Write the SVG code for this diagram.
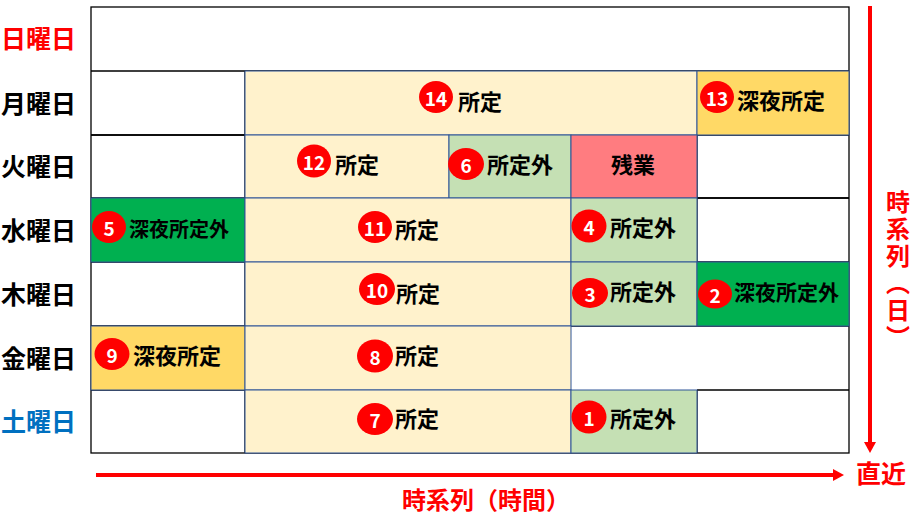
<svg xmlns="http://www.w3.org/2000/svg" width="916" height="515" viewBox="0 0 916 515">
<style>
.cell{stroke:#2F5597;stroke-width:1}
.ly{fill:#FFF2CC}.gd{fill:#FFD966}.lg{fill:#C5E0B4}.gr{fill:#00B050}.pk{fill:#FF7C80}
.grid{stroke:#000;stroke-width:1.3;fill:none}
.t{font-family:"Noto Sans CJK JP","Noto Sans CJK SC",sans-serif;font-weight:bold;font-size:22px;fill:#000;dominant-baseline:central}
.s{font-size:20px}
.num{font-family:"Noto Sans CJK JP","Noto Sans",sans-serif;font-weight:bold;font-size:19px;fill:#fff;text-anchor:middle;dominant-baseline:central}
.bad{fill:#FF0000}
.day{font-family:"Noto Sans CJK JP","Noto Sans CJK SC",sans-serif;font-weight:bold;font-size:25px;fill:#000;dominant-baseline:central}
.red{fill:#FF0000}.blue{fill:#0070C0}
.axis{stroke:#FF0000;stroke-width:4;fill:none}
.lbl{font-family:"Noto Sans CJK JP","Noto Sans CJK SC",sans-serif;font-weight:bold;font-size:24px;fill:#FF0000;dominant-baseline:central}
</style>
<defs>
<marker id="ah" markerUnits="userSpaceOnUse" markerWidth="11" markerHeight="12" refX="0" refY="6" orient="auto" viewBox="0 0 11 12">
<path d="M0,0 L11,6 L0,12 z" fill="#FF0000"/>
</marker>
</defs>
<rect width="916" height="515" fill="#fff"/>

<g id="row-labels">
<text class="day red" x="1" y="37">日曜日</text>
<text class="day" x="1" y="102">月曜日</text>
<text class="day" x="1" y="165">火曜日</text>
<text class="day" x="1" y="229">水曜日</text>
<text class="day" x="1" y="293">木曜日</text>
<text class="day" x="1" y="357">金曜日</text>
<text class="day blue" x="1" y="420">土曜日</text>
</g>

<g id="grid">
<rect class="grid" x="91" y="7" width="758" height="446"/>
<path class="grid" d="M91,71H849 M91,135H245 M697,135H849 M91,198H245 M697,198H849 M91,262H245 M697,262H849 M91,326H245 M571,326H849 M91,390H245 M697,390H849 M245,71V453 M697,390V453 M697,135V262"/>
<path class="grid" stroke-width="2.2" d="M91,135H245 M697,198H849"/>
</g>

<g id="n14"><rect class="cell ly" x="245" y="71" width="452" height="64"/>
<ellipse class="bad" cx="436" cy="97" rx="17" ry="16"/><text class="num" x="436" y="97">14</text>
<text class="t" x="458" y="100">所定</text></g>

<g id="n13"><rect class="cell gd" x="697" y="71" width="152" height="64"/>
<ellipse class="bad" cx="717" cy="97" rx="17" ry="16"/><text class="num" x="717" y="97">13</text>
<text class="t" x="737" y="99">深夜所定</text></g>

<g id="n12"><rect class="cell ly" x="245" y="135" width="204" height="63"/>
<ellipse class="bad" cx="314" cy="161" rx="17" ry="16.5"/><text class="num" x="314" y="161">12</text>
<text class="t" x="335" y="163">所定</text></g>

<g id="n6"><rect class="cell lg" x="449" y="135" width="122" height="63"/>
<ellipse class="bad" cx="466" cy="164" rx="18" ry="16"/><text class="num" x="466" y="164">6</text>
<text class="t" x="487" y="163">所定外</text></g>

<g id="overtime"><rect class="cell pk" x="571" y="135" width="126" height="63"/>
<text class="t" x="633" y="163" text-anchor="middle">残業</text></g>

<g id="n5"><rect class="cell gr" x="91" y="198" width="154" height="64"/>
<ellipse class="bad" cx="109" cy="227" rx="17" ry="16"/><text class="num" x="109" y="227">5</text>
<text class="t s" x="129" y="228">深夜所定外</text></g>

<g id="n11"><rect class="cell ly" x="245" y="198" width="326" height="64"/>
<ellipse class="bad" cx="375" cy="227" rx="17" ry="16"/><text class="num" x="375" y="227">11</text>
<text class="t" x="395" y="228">所定</text></g>

<g id="n4"><rect class="cell lg" x="571" y="198" width="126" height="64"/>
<ellipse class="bad" cx="589" cy="226" rx="17.5" ry="16.5"/><text class="num" x="589" y="226">4</text>
<text class="t" x="610" y="226">所定外</text></g>

<g id="n10"><rect class="cell ly" x="245" y="262" width="326" height="64"/>
<ellipse class="bad" cx="377" cy="289" rx="18" ry="16"/><text class="num" x="377" y="289">10</text>
<text class="t" x="396" y="292">所定</text></g>

<g id="n3"><rect class="cell lg" x="571" y="262" width="126" height="64"/>
<ellipse class="bad" cx="590" cy="293" rx="18" ry="15"/><text class="num" x="590" y="293">3</text>
<text class="t" x="610" y="290">所定外</text></g>

<g id="n2"><rect class="cell gr" x="697" y="262" width="152" height="64"/>
<ellipse class="bad" cx="715" cy="294" rx="17" ry="14.5"/><text class="num" x="715" y="294">2</text>
<text class="t" x="734" y="291" style="font-size:21px">深夜所定外</text></g>

<g id="n9"><rect class="cell gd" x="91" y="326" width="154" height="64"/>
<ellipse class="bad" cx="112" cy="354" rx="17.5" ry="16"/><text class="num" x="112" y="354">9</text>
<text class="t" x="133" y="354">深夜所定</text></g>

<g id="n8"><rect class="cell ly" x="245" y="326" width="326" height="64"/>
<ellipse class="bad" cx="375" cy="356" rx="18" ry="16.5"/><text class="num" x="375" y="356">8</text>
<text class="t" x="395" y="354">所定</text></g>

<g id="n7"><rect class="cell ly" x="245" y="390" width="326" height="63"/>
<ellipse class="bad" cx="375" cy="419" rx="18" ry="16"/><text class="num" x="375" y="419">7</text>
<text class="t" x="395" y="417">所定</text></g>

<g id="n1"><rect class="cell lg" x="571" y="390" width="126" height="63"/>
<ellipse class="bad" cx="589" cy="417" rx="17.5" ry="16.5"/><text class="num" x="589" y="417">1</text>
<text class="t" x="610" y="417">所定外</text></g>

<g id="connectors">
<line class="axis" x1="96" y1="475" x2="833" y2="475" marker-end="url(#ah)"/>
<line class="axis" x1="870" y1="6" x2="870" y2="442" marker-end="url(#ah)"/>
</g>

<g id="axis-labels">
<text class="lbl" x="402" y="498">時系列（時間）</text>
<text class="lbl" x="856" y="472" style="font-size:25px">直近</text>
<text class="lbl" x="898" y="190" style="writing-mode:vertical-rl;letter-spacing:3px;dominant-baseline:auto">時系列（日）</text>
</g>
</svg>
